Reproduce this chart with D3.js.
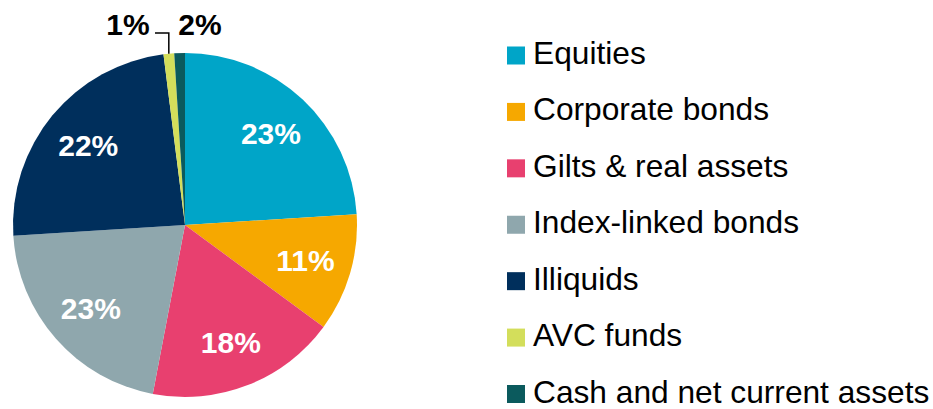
<!DOCTYPE html>
<html>
<head>
<meta charset="utf-8">
<script src="https://cdn.jsdelivr.net/npm/d3@7"></script>
<style>
  body { margin: 0; background: #fff; }
  svg { display: block; font-family: "Liberation Sans", Arial, sans-serif; }
</style>
</head>
<body>
<svg id="chart" width="933" height="409"></svg>
<script>
// slice sizes, printed labels kept apart
const categories = ['Equities', 'Corporate bonds', 'Gilts & real assets', 'Index-linked bonds',
                    'Illiquids', 'AVC funds', 'Cash and net current assets']
const shares = [24.0, 11.1, 17.9, 21.0, 24.0, 1.0, 1.0]
const labels = ['23%', '11%', '18%', '23%', '22%', '1%', '2%']
const colours = ['#00a5c8', '#f6a800', '#e8406f', '#8fa7ad', '#002f5c', '#d3de5b', '#0b5a5d']

const svg = d3.select('#chart')
const cx = 185, cy = 225, radius = 172

const data = categories.map((c, i) => ({ name: c, value: shares[i], label: labels[i], colour: colours[i] }))

const pie = d3.pie().sort(null).value(d => d.value)
const arcs = pie(data)
const arc = d3.arc().innerRadius(0).outerRadius(radius)
const labelArc = d3.arc().innerRadius(radius * 0.73).outerRadius(radius * 0.73)

const g = svg.append('g').attr('transform', `translate(${cx},${cy})`)

g.selectAll('path.slice')
  .data(arcs)
  .join('path')
  .attr('class', 'slice')
  .attr('d', arc)
  .attr('fill', d => d.data.colour)

// labels inside the big slices
g.selectAll('text.inside')
  .data(arcs.filter(d => d.data.value > 5))
  .join('text')
  .attr('class', 'inside')
  .attr('transform', d => `translate(${labelArc.centroid(d)})`)
  .attr('text-anchor', 'middle')
  .attr('dy', '0.36em')
  .attr('fill', '#fff')
  .attr('font-weight', 'bold')
  .attr('font-size', 30)
  .text(d => d.data.label)

// the two small slices get labels above the pie
const avc = arcs[5], cash = arcs[6]
const edge = a => {
  const mid = (a.startAngle + a.endAngle) / 2
  return [radius * Math.sin(mid), -radius * Math.cos(mid)]
}
const avcEdge = edge(avc)
const elbowY = 33 - cy
g.append('path')
  .attr('d', d3.line()([[avcEdge[0], avcEdge[1]], [avcEdge[0], elbowY], [155 - cx, elbowY]]))
  .attr('fill', 'none')
  .attr('stroke', '#000')
  .attr('stroke-width', 1.5)

g.append('text')
  .attr('x', 128 - cx).attr('y', 35 - cy)
  .attr('text-anchor', 'middle')
  .attr('font-weight', 'bold').attr('font-size', 30)
  .text(avc.data.label)

g.append('text')
  .attr('x', 200 - cx).attr('y', 35 - cy)
  .attr('text-anchor', 'middle')
  .attr('font-weight', 'bold').attr('font-size', 30)
  .text(cash.data.label)

// legend
const legendY = d3.scalePoint().domain(categories).range([55.5, 394])
const legend = svg.append('g')
  .selectAll('g')
  .data(data)
  .join('g')
  .attr('transform', d => `translate(507,${legendY(d.name)})`)

legend.append('rect')
  .attr('x', 0).attr('y', -9)
  .attr('width', 18).attr('height', 18)
  .attr('fill', d => d.colour)

legend.append('text')
  .attr('x', 26).attr('y', 8.5)
  .attr('font-size', 31.7)
  .attr('fill', '#000')
  .text(d => d.name)
</script>
</body>
</html>
